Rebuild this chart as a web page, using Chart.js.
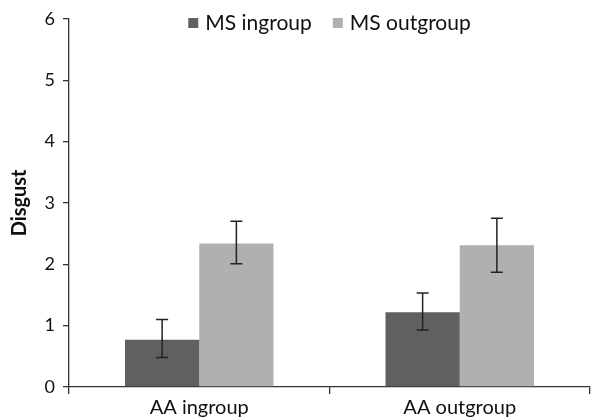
<!DOCTYPE html>
<html><head><meta charset="utf-8">
<script src="https://cdn.jsdelivr.net/npm/chart.js@4"></script>
<style>html,body{margin:0;padding:0;background:#fff}#c{display:block}</style>
</head><body>
<canvas id="c" width="593" height="420"></canvas>
<script>
const categories = ["AA ingroup", "AA outgroup"];
const seriesNames = ["MS ingroup", "MS outgroup"];
const msIngroup = [0.77, 1.22];
const msOutgroup = [2.34, 2.31];
const msIngroupErrLow = [0.48, 0.93];
const msIngroupErrHigh = [1.10, 1.53];
const msOutgroupErrLow = [2.01, 1.87];
const msOutgroupErrHigh = [2.70, 2.75];
const yTicks = [0, 1, 2, 3, 4, 5, 6];

const errLows = [msIngroupErrLow, msOutgroupErrLow];
const errHighs = [msIngroupErrHigh, msOutgroupErrHigh];

const FONT = "Lato, 'Open Sans', sans-serif";

const errorBars = {
  id: 'errorBars',
  afterDatasetsDraw(chart) {
    const ctx = chart.ctx, y = chart.scales.y;
    ctx.save();
    ctx.strokeStyle = '#222';
    ctx.lineWidth = 1.5;
    chart.data.datasets.forEach((ds, i) => {
      const meta = chart.getDatasetMeta(i);
      meta.data.forEach((bar, j) => {
        const x = bar.x;
        const yl = y.getPixelForValue(errLows[i][j]);
        const yh = y.getPixelForValue(errHighs[i][j]);
        ctx.beginPath();
        ctx.moveTo(x, yl); ctx.lineTo(x, yh);
        ctx.moveTo(x - 6, yl); ctx.lineTo(x + 6, yl);
        ctx.moveTo(x - 6, yh); ctx.lineTo(x + 6, yh);
        ctx.stroke();
      });
    });
    ctx.restore();
  }
};

const topLegend = {
  id: 'topLegend',
  afterDraw(chart) {
    const ctx = chart.ctx, area = chart.chartArea;
    ctx.save();
    ctx.font = "21px " + FONT;
    ctx.textBaseline = 'middle';
    const box = 10, gapText = 7, gapItem = 21;
    const items = chart.data.datasets.map(ds => ({ text: ds.label, color: ds.backgroundColor, w: ctx.measureText(ds.label).width }));
    let total = 0;
    items.forEach((it, k) => { total += box + gapText + it.w + (k ? gapItem : 0); });
    let x = (area.left + area.right) / 2 - total / 2;
    const cy = 23;
    items.forEach((it) => {
      ctx.fillStyle = it.color;
      ctx.fillRect(x, cy - box / 2, box, box);
      x += box + gapText;
      ctx.fillStyle = '#111';
      ctx.fillText(it.text, x, cy);
      x += it.w + gapItem;
    });
    ctx.restore();
  }
};

new Chart(document.getElementById('c'), {
  type: 'bar',
  data: {
    labels: categories,
    datasets: [
      { label: seriesNames[0], data: msIngroup, backgroundColor: '#606060' },
      { label: seriesNames[1], data: msOutgroup, backgroundColor: '#b0b0b0' }
    ]
  },
  options: {
    responsive: false,
    animation: false,
    layout: { padding: { top: 15, right: 3, left: 0, bottom: 0 } },
    datasets: { bar: { categoryPercentage: 0.57, barPercentage: 1.0 } },
    plugins: {
      legend: { display: false },
      tooltip: { enabled: false }
    },
    scales: {
      x: {
        grid: { display: true, offset: true, drawOnChartArea: false, drawTicks: true, tickLength: 7, color: '#333', lineWidth: 1.3 },
        border: { display: true, color: '#333', width: 1.3 },
        ticks: { color: '#111', font: { family: FONT, size: 20 }, padding: 2 },
        afterFit(s) { s.height = 33; }
      },
      y: {
        min: 0, max: 6,
        afterBuildTicks(s) { s.ticks = yTicks.map(v => ({ value: v })); },
        grid: { display: true, drawOnChartArea: false, drawTicks: true, tickLength: 6, color: '#333', lineWidth: 1.3 },
        border: { display: true, color: '#333', width: 1.3 },
        ticks: { color: '#111', font: { family: FONT, size: 18 }, padding: 8 },
        title: { display: true, text: 'Disgust', color: '#111', font: { family: FONT, size: 20, weight: 'bold' }, padding: { top: 8, bottom: 0 } },
        afterFit(s) { s.width = 69; }
      }
    }
  },
  plugins: [errorBars, topLegend]
});
</script>
</body></html>
